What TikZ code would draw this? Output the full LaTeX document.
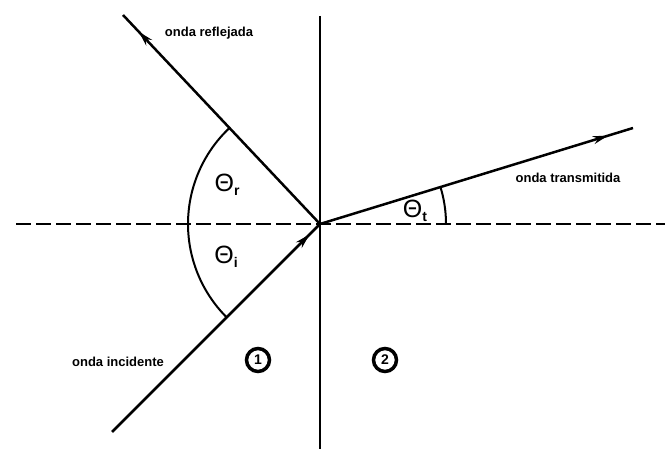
\documentclass[tikz,border=0pt]{standalone}
\usepackage{fontspec}
\setmainfont{Liberation Sans}
\usetikzlibrary{decorations.markings,arrows.meta,calc}
\tikzset{
  ray/.style={line width=2.5pt},
  axisline/.style={line width=2.3pt},
  dashline/.style={line width=2.8pt, dash pattern=on 15pt off 5pt},
  anglearc/.style={line width=2pt},
  wavelabel/.style={font=\fontsize{13}{13}\selectfont\bfseries, inner sep=0pt},
  anglelabel/.style={font=\fontsize{25}{25}\selectfont, inner sep=0pt},
  medium/.style={circle, draw, line width=3.5pt, minimum size=23pt, inner sep=0pt, font=\fontsize{14}{14}\selectfont\bfseries},
  midarrow/.style={postaction={decorate}, decoration={markings, mark=at position #1 with {\arrow{Stealth[length=15pt,width=8pt]}}}}
}
\begin{document}
\begin{tikzpicture}[x=1pt,y=1pt]
\useasboundingbox (0,0) rectangle (671,449);
\coordinate (O) at (320,225);
\coordinate (R) at (123,434);
\coordinate (I) at (112,17);
\coordinate (T) at (633,321);
\coordinate (Vtop) at (320,433);
\coordinate (Vbot) at (320,0);
\coordinate (Hl) at (16,225);
\coordinate (Hr) at (665,225);
% interface and normal
\draw[axisline] (Vtop) -- (Vbot);
\draw[dashline] (Hl) -- (Hr);
% rays
\draw[ray, midarrow=0.92] (O) -- (R);
\draw[ray, midarrow=0.95] (I) -- (O);
\draw[ray, midarrow=0.92] (O) -- (T);
% angle arcs
\draw[anglearc] ($(O)+(133.3:132)$) arc[start angle=133.3, end angle=225, radius=132];
\draw[anglearc] ($(O)+(0:126)$) arc[start angle=0, end angle=17, radius=126];
% labels
\node[wavelabel] (lr) at (209,416) {onda reflejada};
\node[wavelabel] (li) at (118,87) {onda incidente};
\node[wavelabel] (lt) at (568,271) {onda transmitida};
\node[anglelabel] (thr) at (227,264) {Θ\raisebox{-4pt}{\fontsize{14}{14}\selectfont\bfseries r}};
\node[anglelabel] (thi) at (226,192) {Θ\raisebox{-4pt}{\fontsize{14}{14}\selectfont\bfseries i}};
\node[anglelabel] (tht) at (415,238) {Θ\raisebox{-4pt}{\fontsize{14}{14}\selectfont\bfseries t}};
\node[medium] (m1) at (258,89) {1};
\node[medium] (m2) at (385,89) {2};
\end{tikzpicture}
\end{document}
